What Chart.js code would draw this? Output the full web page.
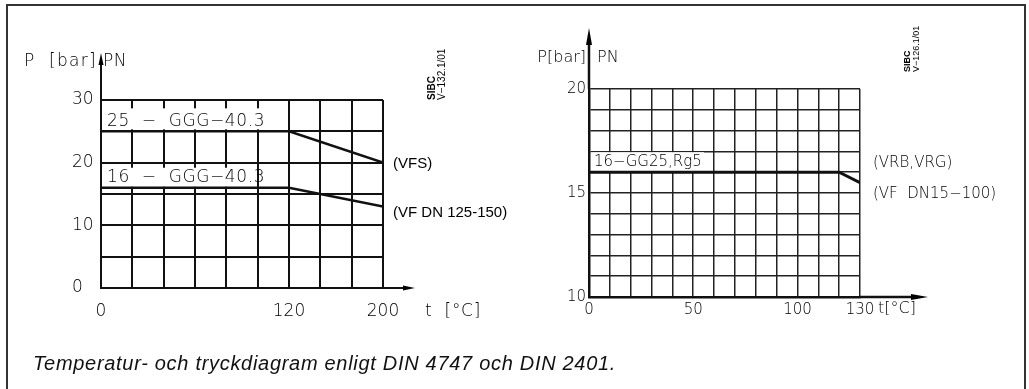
<!DOCTYPE html>
<html>
<head>
<meta charset="utf-8">
<script src="https://cdn.jsdelivr.net/npm/chart.js@4.4.0/dist/chart.umd.min.js"></script>
<style>
  html, body { margin: 0; padding: 0; background: #fff; }
  body { width: 1029px; height: 389px; position: relative; overflow: hidden; }
  #frame { position: absolute; left: 6px; top: 4px; width: 1020px; height: 400px;
           border: 2px solid #333; border-bottom: none; box-sizing: border-box; }
  #left { position: absolute; left: 0; top: 0; }
  #right { position: absolute; left: 515px; top: 0; }
  #caption { position: absolute; left: 33px; top: 352px; line-height: 22px; letter-spacing: 0.7px;
             font: italic 20px "Liberation Sans", Arial, sans-serif; color: #111; white-space: nowrap; }
</style>
</head>
<body>
<div id="frame"></div>
<canvas id="left" width="515" height="389"></canvas>
<canvas id="right" width="514" height="389"></canvas>
<div id="caption">Temperatur- och tryckdiagram enligt DIN 4747 och DIN 2401.</div>
<script>
Chart.defaults.font.family = "'DejaVu Sans', sans-serif";
Chart.defaults.font.weight = 200;
Chart.defaults.color = '#000';
Chart.defaults.animation = false;
Chart.defaults.plugins.legend.display = false;
Chart.defaults.plugins.tooltip.enabled = false;

// left diagram (VFS / VF DN 125-150)
var leftTemps = [0, 120, 200];
var leftPN25 = [25, 25, 20];
var leftPN16 = [16, 16, 13];
var leftTempTicks = [0, 120, 200];
var leftPressureTicks = [0, 10, 20, 30];

// right diagram (VRB, VRG / VF DN15-100)
var rightTemps = [0, 120, 130];
var rightPN16 = [16, 16, 15.5];
var rightTempTicks = [0, 50, 100, 130];
var rightPressureTicks = [10, 15, 20];

var ink = '#111';
var cad = "200 {s}px 'DejaVu Sans', sans-serif";
var arial = "'Liberation Sans', Arial, sans-serif";

function cadFont(size) { return cad.replace('{s}', size); }

// left grid: 20 degC per cell up to 120, then three cells up to 200
function leftCell(t) {
  return t <= 120 ? t / 20 : 6 + (t - 120) * 3 / 80;
}

function points(xs, ys, f) {
  return xs.map(function (x, i) { return { x: f ? f(x) : x, y: ys[i] }; });
}

function text(ctx, str, x, y, font, align, spacing) {
  ctx.font = font;
  ctx.letterSpacing = (spacing || 0) + 'px';
  ctx.textAlign = align || 'left';
  ctx.textBaseline = 'middle';
  ctx.fillText(str, x, y);
  ctx.letterSpacing = '0px';
}

function arrowUp(ctx, x, from, tip, len, half, w) {
  ctx.lineWidth = w;
  ctx.beginPath(); ctx.moveTo(x, from); ctx.lineTo(x, tip + len - 1); ctx.stroke();
  ctx.beginPath(); ctx.moveTo(x, tip); ctx.lineTo(x - half, tip + len); ctx.lineTo(x + half, tip + len);
  ctx.closePath(); ctx.fill();
}

function arrowRight(ctx, y, from, tip, len, half, w) {
  ctx.lineWidth = w;
  ctx.beginPath(); ctx.moveTo(from, y); ctx.lineTo(tip - len + 1, y); ctx.stroke();
  ctx.beginPath(); ctx.moveTo(tip, y); ctx.lineTo(tip - len, y - half); ctx.lineTo(tip - len, y + half);
  ctx.closePath(); ctx.fill();
}

function stamp(ctx, x, bottom, l1, l2, size) {
  ctx.save();
  ctx.translate(x, bottom);
  ctx.rotate(-Math.PI / 2);
  ctx.font = 'bold ' + size + 'px ' + arial;
  ctx.textAlign = 'left';
  ctx.textBaseline = 'alphabetic';
  ctx.fillText(l1, 0, 0);
  ctx.font = size + 'px ' + arial;
  ctx.fillText(l2, 0, size);
  ctx.restore();
}

var leftDecor = {
  id: 'leftDecor',
  beforeDatasetsDraw: function (chart) {
    var ctx = chart.ctx, a = chart.chartArea, y = chart.scales.y;
    ctx.save();
    ctx.fillStyle = '#fff';
    ctx.fillRect(a.left + 2, y.getPixelForValue(25) - 23, 166, 21);
    ctx.fillRect(a.left + 2, y.getPixelForValue(16) - 20, 154, 19);
    ctx.restore();
  },
  afterDraw: function (chart) {
    var ctx = chart.ctx, a = chart.chartArea, y = chart.scales.y;
    ctx.save();
    ctx.fillStyle = '#000'; ctx.strokeStyle = ink;
    arrowUp(ctx, a.left, a.top, 53, 12, 2.5, 2);
    arrowRight(ctx, a.bottom, a.right, 415, 12, 2.5, 2);
    text(ctx, 'P  [bar]', 97, 62, cadFont(17), 'right', 1.3);
    text(ctx, 'PN', 103, 62, cadFont(17), 'left', 0.5);
    text(ctx, 't  [°C]', 425, 312, cadFont(17), 'left', 0.7);
    text(ctx, '25  \u2212  GGG\u221240.3', a.left + 6, y.getPixelForValue(25) - 10, cadFont(17), 'left', 0.6);
    text(ctx, '16  \u2212  GGG\u221240.3', a.left + 6, y.getPixelForValue(16) - 10, cadFont(17), 'left', 0.6);
    text(ctx, '(VFS)', a.right + 10, y.getPixelForValue(20) + 1, '15px ' + arial);
    text(ctx, '(VF DN 125-150)', a.right + 10, 213, '15px ' + arial);
    stamp(ctx, 435, 100, 'SIBC', 'V\u2212132.1/01', 10);
    ctx.restore();
  }
};

var rightDecor = {
  id: 'rightDecor',
  beforeDatasetsDraw: function (chart) {
    var ctx = chart.ctx, a = chart.chartArea, y = chart.scales.y;
    ctx.save();
    ctx.fillStyle = '#fff';
    ctx.fillRect(a.left + 2, y.getPixelForValue(16) - 20, 113, 19);
    ctx.restore();
  },
  afterDraw: function (chart) {
    var ctx = chart.ctx, a = chart.chartArea, y = chart.scales.y;
    ctx.save();
    ctx.fillStyle = '#000'; ctx.strokeStyle = ink;
    arrowUp(ctx, a.left, a.top, 28, 17, 3, 2.5);
    arrowRight(ctx, a.bottom, a.right, 413, 17, 3, 2.5);
    text(ctx, 'P[bar]', a.left - 3, 58, cadFont(16), 'right');
    text(ctx, 'PN', a.left + 8, 58, cadFont(16));
    text(ctx, 't[°C]', 363, 309, cadFont(16));
    text(ctx, '16\u2212GG25,Rg5', a.left + 5, y.getPixelForValue(16) - 10, cadFont(15));
    text(ctx, '(VRB,VRG)', a.right + 13, 163, cadFont(15));
    text(ctx, '(VF  DN15\u2212100)', a.right + 13, 194, cadFont(15));
    stamp(ctx, 395, 72, 'SIBC', 'V\u2212126.1/01', 9);
    ctx.restore();
  }
};

new Chart(document.getElementById('left'), {
  type: 'line',
  data: {
    datasets: [
      { data: points(leftTemps, leftPN25, leftCell), borderColor: ink, borderWidth: 2.5, pointRadius: 0, tension: 0 },
      { data: points(leftTemps, leftPN16, leftCell), borderColor: ink, borderWidth: 2.5, pointRadius: 0, tension: 0 }
    ]
  },
  options: {
    responsive: false,
    layout: { padding: { left: 72, top: 100, right: 132, bottom: 0 } },
    scales: {
      x: {
        type: 'linear', min: 0, max: 9,
        afterFit: function (s) { s.height = 101; },
        ticks: {
          stepSize: 1, autoSkip: false, maxRotation: 0, padding: 13, font: { size: 17 },
          callback: function (v) {
            var i = leftTempTicks.findIndex(function (t) { return leftCell(t) === v; });
            return i < 0 ? '' : String(leftTempTicks[i]);
          }
        },
        grid: { color: ink, lineWidth: 2, drawTicks: false },
        border: { color: ink, width: 2 }
      },
      y: {
        min: 0, max: 30,
        afterFit: function (s) { s.width = 29; },
        ticks: {
          stepSize: 5, autoSkip: false, padding: 8, crossAlign: 'far', font: { size: 17 },
          callback: function (v) { return leftPressureTicks.indexOf(v) < 0 ? '' : String(v); }
        },
        grid: { color: ink, lineWidth: 2, drawTicks: false },
        border: { color: ink, width: 2 }
      }
    }
  },
  plugins: [leftDecor]
});

new Chart(document.getElementById('right'), {
  type: 'line',
  data: {
    datasets: [
      { data: points(rightTemps, rightPN16), borderColor: ink, borderWidth: 3, pointRadius: 0, tension: 0 }
    ]
  },
  options: {
    responsive: false,
    layout: { padding: { left: 0, top: 89, right: 169, bottom: 0 } },
    scales: {
      x: {
        type: 'linear', min: 0, max: 130,
        afterFit: function (s) { s.height = 92; },
        ticks: {
          stepSize: 10, autoSkip: false, maxRotation: 0, padding: 4, font: { size: 15 },
          callback: function (v) { return rightTempTicks.indexOf(v) < 0 ? '' : String(v); }
        },
        grid: { color: '#222', lineWidth: 1.5, drawTicks: false },
        border: { color: ink, width: 2.5 }
      },
      y: {
        min: 10, max: 20,
        afterFit: function (s) { s.width = 74; },
        ticks: {
          stepSize: 1, autoSkip: false, padding: 3, font: { size: 15 },
          callback: function (v) { return rightPressureTicks.indexOf(v) < 0 ? '' : String(v); }
        },
        grid: { color: '#222', lineWidth: 1.5, drawTicks: false },
        border: { color: ink, width: 2.5 }
      }
    }
  },
  plugins: [rightDecor]
});
</script>
</body>
</html>
